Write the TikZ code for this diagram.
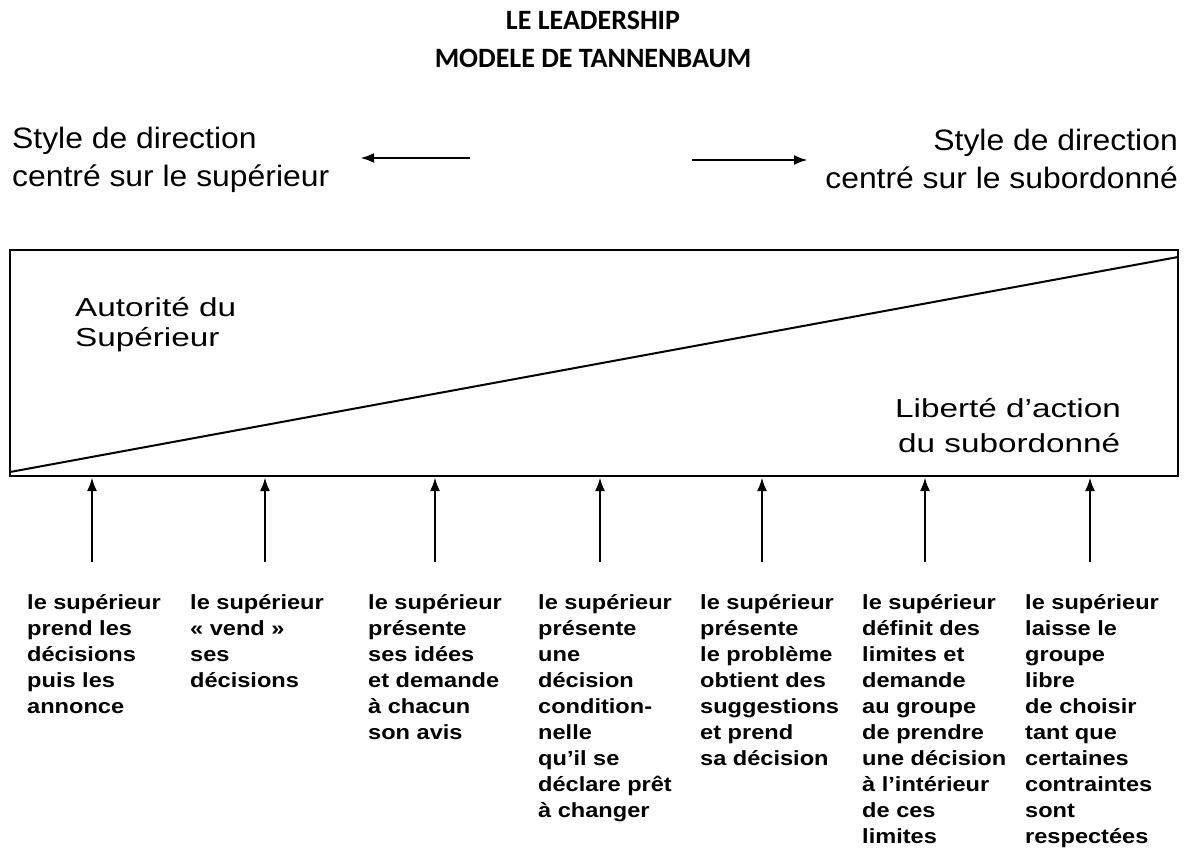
\documentclass[tikz,border=0pt]{standalone}
\usepackage{fontspec}
\setmainfont{Liberation Sans}
\newfontfamily\titlefont[Ligatures=TeX]{Carlito}
\newfontfamily\topfont[FakeStretch=1.08,Ligatures=TeX]{Liberation Sans}
\newfontfamily\boxfont[FakeStretch=1.28,Ligatures=TeX]{Liberation Sans}
\newfontfamily\colfont[FakeStretch=1.15,Ligatures=TeX]{Liberation Sans}
\usetikzlibrary{arrows.meta}
\begin{document}
\begin{tikzpicture}[x=1pt,y=-1pt,
  titletext/.style={font=\titlefont\bfseries\fontsize{28}{34}\selectfont, inner sep=0pt, anchor=base},
  toplabel/.style={font=\topfont\fontsize{29.5}{38}\selectfont, inner sep=0pt},
  boxlabel/.style={font=\boxfont\fontsize{26}{30}\selectfont, inner sep=0pt, align=left, anchor=north west},
  coltext/.style={font=\colfont\bfseries\fontsize{20.5}{26}\selectfont, inner sep=0pt, align=left, anchor=north west},
  frame/.style={line width=2pt},
  uparrow/.style={line width=2.8pt, -{Latex[length=14pt,width=10pt]}},
  dirarrow/.style={line width=2.8pt, -{Latex[length=14pt,width=10pt]}}
]
\useasboundingbox (0,0) rectangle (1186,851);
\fill[white] (0,0) rectangle (1186,851);

% Title
\node[titletext] (t1) at (593,30) {LE LEADERSHIP};
\node[titletext] (t2) at (593,68) {MODELE DE TANNENBAUM};

% top labels
\node[toplabel, anchor=north west, align=left] (sl) at (12,127) {Style de direction\\centré sur le supérieur};
\node[toplabel, anchor=north east, align=right] (sr) at (1178,129) {Style de direction\\centré sur le subordonné};

\coordinate (la) at (470,158);
\coordinate (lb) at (360,158);
\coordinate (ra) at (692,160);
\coordinate (rb) at (808,160);
\draw[dirarrow] (la) -- (lb);
\draw[dirarrow] (ra) -- (rb);

% rectangle and diagonal
\coordinate (bl) at (10,476);
\coordinate (tr) at (1178,250);
\coordinate (dl) at (10,472);
\coordinate (dr) at (1178,257);
\draw[frame] (bl) rectangle (tr);
\draw[frame] (dl) -- (dr);

\node[boxlabel] (aut) at (75,297) {Autorité du\\Supérieur};
\node[boxlabel, font=\boxfont\fontsize{26}{35}\selectfont] (lib) at (895,398) {Liberté d'action\\\hspace*{3pt}du subordonné};

% arrows
\foreach \i/\x in {1/92,2/265,3/435,4/600,5/762,6/925,7/1090}{
  \coordinate (s\i) at (\x,562);
  \coordinate (e\i) at (\x,477);
  \draw[uparrow] (s\i) -- (e\i);
}

% column texts
\node[coltext] (c1) at (27,594) {le supérieur\\prend les\\décisions\\puis les\\annonce};
\node[coltext] (c2) at (190,594) {le supérieur\\« vend »\\ses\\décisions};
\node[coltext] (c3) at (368,594) {le supérieur\\présente\\ses idées\\et demande\\à chacun\\son avis};
\node[coltext] (c4) at (538,594) {le supérieur\\présente\\une\\décision\\condition-\\nelle\\qu'il se\\déclare prêt\\à changer};
\node[coltext] (c5) at (700,594) {le supérieur\\présente\\le problème\\obtient des\\suggestions\\et prend\\sa décision};
\node[coltext] (c6) at (862,594) {le supérieur\\définit des\\limites et\\demande\\au groupe\\de prendre\\une décision\\à l'intérieur\\de ces\\limites};
\node[coltext] (c7) at (1025,594) {le supérieur\\laisse le\\groupe\\libre\\de choisir\\tant que\\certaines\\contraintes\\sont\\respectées};
\end{tikzpicture}
\end{document}
